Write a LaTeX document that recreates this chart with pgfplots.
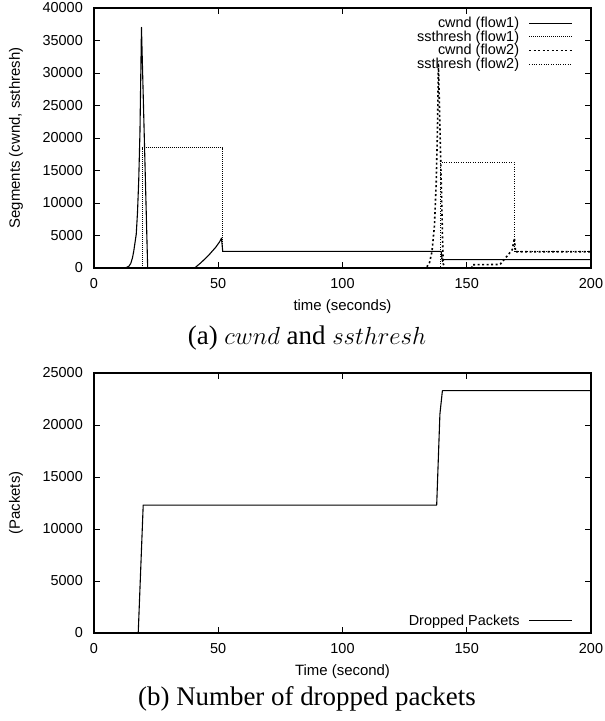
\documentclass[border=0pt]{standalone}
\usepackage{fontspec}
\setmainfont{Liberation Serif}
\setsansfont{Liberation Sans}
\usepackage{pgfplots}
\pgfplotsset{compat=1.18}

\pgfplotsset{
  myaxis/.style={
    scale only axis, width=497bp, height=260bp,
    xmin=0, xmax=200, xtick={0,50,100,150,200},
    axis line style={line width=1.1bp},
    tick style={line width=0.9bp, black},
    major tick length=6bp,
    tick align=inside,
    scaled y ticks=false, scaled x ticks=false,
    /pgf/number format/assume math mode=true,
    /pgf/number format/1000 sep={},
    tick label style={font=\sffamily\fontsize{14.5}{14.5}\selectfont},
    xticklabel style={anchor=center, yshift=-16bp},
    yticklabel style={anchor=east, inner sep=0pt, xshift=-11bp},
    label style={font=\sffamily\fontsize{15}{15}\selectfont},
    xlabel style={at={(axis description cs:0.5,-0.15)}, anchor=center},
    ylabel style={at={(axis description cs:-0.157,0.5)}, anchor=center},
    legend plot pos=right,
    legend cell align=right,
    legend image code/.code={\draw[#1] (0bp,0bp) -- (43bp,0bp);},
    legend style={draw=none, fill=none, font=\sffamily\fontsize{14.5}{14.5}\selectfont,
      inner sep=0pt, outer sep=0pt,
      nodes={inner sep=0.3bp}, row sep=1bp,
      /tikz/every odd column/.append style={column sep=9bp}},
    every axis plot/.append style={line join=round},
  }
}

\begin{document}
\begin{tikzpicture}
\useasboundingbox (0bp,0bp) rectangle (605bp,-721bp);

\begin{axis}[myaxis, at={(94bp,-268bp)}, anchor=south west,
  ymin=0, ymax=40000, ytick={0,5000,...,40000},
  xlabel={time (seconds)}, ylabel={Segments (cwnd, ssthresh)},
  legend style={at={(1,1)}, anchor=north east, xshift=-18bp, yshift=-9bp}]
\addplot[black, line width=1.1bp] table {
x y
0 0
11.5 0
13 80
14 250
14.8 700
15.5 1600
16 2600
16.5 3900
17 5200
17.5 8500
18 13500
18.5 21000
19.1 37000
21.6 0
40.5 0
43 800
46 1900
49 3200
50.5 4000
51.3 4600
51.8 2550
139.7 2550
140.2 1000
140.8 1300
200 1300
};
\addlegendentry{cwnd (flow1)}
\addplot[black, line width=0.7bp, dash pattern=on 0.8bp off 1.2bp] table {
x y
0 0
19.4 0
19.4 18500
51.6 18500
51.6 2550
139.8 2550
139.8 1300
200 1300
};
\addlegendentry{ssthresh (flow1)}
\addplot[black, line width=1.6bp, dash pattern=on 2bp off 2.5bp] table {
x y
0 0
133 0
134 200
135 800
136 2500
137 6500
137.7 13000
138.2 21000
138.6 31500
140.5 700
141.2 0
152 0
152.3 500
163.4 550
165.5 1500
168.3 2800
169.2 4600
169.6 2500
200 2500
};
\addlegendentry{cwnd (flow2)}
\addplot[black, line width=0.7bp, dash pattern=on 0.8bp off 1.6bp] table {
x y
0 0
139.5 0
139.5 16300
169 16300
169 2500
200 2500
};
\addlegendentry{ssthresh (flow2)}
\end{axis}

\begin{axis}[myaxis, at={(94bp,-633bp)}, anchor=south west,
  ymin=0, ymax=25000, ytick={0,5000,...,25000},
  xlabel={Time (second)}, ylabel={(Packets)},
  legend style={at={(1,0)}, anchor=south east, xshift=-18bp, yshift=6bp}]
\addplot[black, line width=1.1bp] table {
x y
0 0
17.8 0
19.8 12300
137.9 12300
139.2 21050
140.2 23300
200 23300
};
\addlegendentry{Dropped Packets}
\end{axis}

\node[anchor=base, font=\fontsize{27}{27}\selectfont] at (307bp,-344bp) {(a) $cwnd$ and $ssthresh$};
\node[anchor=base, font=\fontsize{27}{27}\selectfont] at (307bp,-705bp) {(b) Number of dropped packets};
\end{tikzpicture}
\end{document}
